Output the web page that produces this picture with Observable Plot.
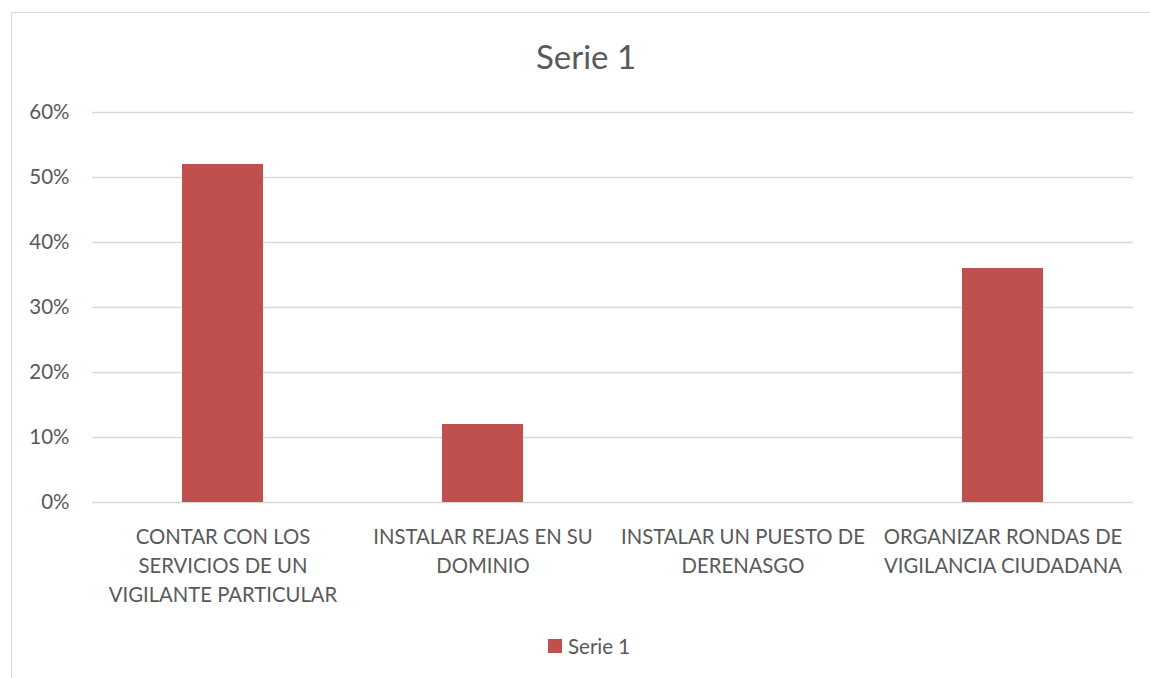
<!DOCTYPE html>
<html>
<head>
<meta charset="utf-8">
<script src="https://cdn.jsdelivr.net/npm/d3@7"></script>
<script src="https://cdn.jsdelivr.net/npm/@observablehq/plot@0.6"></script>
<style>
  html, body { margin: 0; padding: 0; background: #fff; overflow: hidden; }
  #wrap { position: relative; width: 1150px; height: 678px; overflow: hidden; font-family: Lato, sans-serif; color: #595959; }
  #frame { position: absolute; left: 11px; top: 12px; width: 1200px; height: 700px; border-left: 1.5px solid #D9D9D9; border-top: 1.5px solid #D9D9D9; box-sizing: border-box; }
  #title { position: absolute; left: 0; top: 0; width: 1150px; height: 90px; }
  #title div { position: absolute; left: 0; width: 1172px; top: 36px; text-align: center; font-size: 33px; line-height: 40px; color: #595959; }
  #chart { position: absolute; left: 0; top: 90px; }
  #legend { position: absolute; left: 0; top: 620px; width: 1150px; height: 58px; }
  #legend svg { margin-right: 6px !important; }
</style>
</head>
<body>
<div id="wrap">
  <div id="frame"></div>
  <div id="title"><div>Serie 1</div></div>
  <div id="chart"></div>
  <div id="legend"></div>
</div>
<script>
const seriesName = "Serie 1";
const categories = [
  "CONTAR CON LOS\nSERVICIOS DE UN\nVIGILANTE PARTICULAR",
  "INSTALAR REJAS EN SU\nDOMINIO",
  "INSTALAR UN PUESTO DE\nDERENASGO",
  "ORGANIZAR RONDAS DE\nVIGILANCIA CIUDADANA"
];
const values = [52, 12, 0, 36];
const yTicks = [0, 10, 20, 30, 40, 50, 60];
const barColor = "#C0504D";

const data = categories.map((c, i) => ({category: c, value: values[i]}));

const chart = Plot.plot({
  width: 1150,
  height: 530,
  marginLeft: 92,
  marginRight: 17,
  marginTop: 22,
  marginBottom: 118,
  style: {fontFamily: "Lato, sans-serif", fontSize: "20px", color: "#595959", background: "transparent", overflow: "visible"},
  x: {domain: categories, paddingInner: 0.688, paddingOuter: 0.344, label: null},
  y: {domain: [0, 60], label: null},
  marks: [
    Plot.gridY(yTicks, {stroke: "#D9D9D9", strokeOpacity: 1, strokeWidth: 1.4}),
    Plot.barY(data, {x: "category", y: "value", fill: barColor}),
    Plot.axisY(yTicks, {tickSize: 0, tickPadding: 23, tickFormat: d => d + "%", fontSize: 20.5, fill: "#595959"}),
    Plot.axisX({tickSize: 0, tickPadding: 21, lineHeight: 1.42, fontSize: 20.3, fill: "#595959"})
  ]
});
document.getElementById("chart").appendChild(chart);

const legend = Plot.legend({
  color: {type: "ordinal", domain: [seriesName], range: [barColor]},
  legend: "swatches",
  swatchSize: 14,
  style: {fontFamily: "Lato, sans-serif", fontSize: "20.5px", color: "#595959"}
});
legend.style.position = "absolute";
legend.style.left = "548px";
legend.style.top = "9px";
legend.style.margin = "0";
document.getElementById("legend").appendChild(legend);
</script>
</body>
</html>
